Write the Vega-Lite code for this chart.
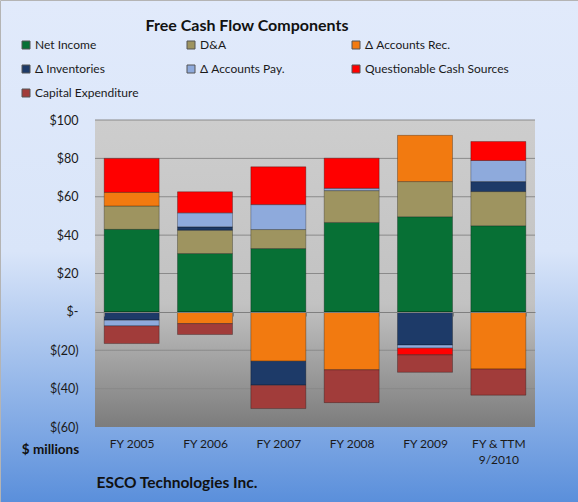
{
  "$schema": "https://vega.github.io/schema/vega-lite/v6.json",
  "width": 578,
  "height": 502,
  "padding": 0,
  "autosize": {"type": "none"},
  "config": {
    "font": "Lato",
    "view": {
      "fill": {"gradient": "linear", "x1": 0, "y1": 0, "x2": 0, "y2": 1,
        "stops": [{"offset": 0, "color": "#e1eafb"}, {"offset": 0.5, "color": "#d9e5f9"}, {"offset": 1, "color": "#5a8fdb"}]},
      "stroke": "#b4b4b4",
      "strokeWidth": 1
    },
    "axisY": {
      "orient": "left", "offset": -95,
      "labelFont": "Lato", "labelFontSize": 12.5, "labelColor": "#1a1a1a", "labelPadding": 17,
      "domain": false, "ticks": false, "grid": false,
      "titleAngle": 0, "titleX": -45, "titleY": 449,
      "titleAlign": "center", "titleBaseline": "middle", "titleFont": "Lato",
      "titleFontSize": 13.5, "titleFontWeight": "bold", "titleColor": "#111111",
      "zindex": 1
    }
  },
  "title": {
    "text": "Free Cash Flow Components",
    "font": "Lato",
    "fontSize": 16,
    "fontWeight": "bold",
    "color": "#111111",
    "anchor": "middle",
    "frame": "group",
    "baseline": "alphabetic",
    "dx": -42,
    "offset": -47
  },
  "data": {
    "values": [
      {"year": "FY 2005", "component": "Net Income", "k": 1, "value": 43.0},
      {"year": "FY 2005", "component": "D&A", "k": 2, "value": 12.2},
      {"year": "FY 2005", "component": "Δ Accounts Rec.", "k": 3, "value": 7.1},
      {"year": "FY 2005", "component": "Δ Inventories", "k": 4, "value": -4.3},
      {"year": "FY 2005", "component": "Δ Accounts Pay.", "k": 5, "value": -3.0},
      {"year": "FY 2005", "component": "Questionable Cash Sources", "k": 6, "value": 17.7},
      {"year": "FY 2005", "component": "Capital Expenditure", "k": 7, "value": -9.2},
      {"year": "FY 2006", "component": "Net Income", "k": 1, "value": 30.4},
      {"year": "FY 2006", "component": "D&A", "k": 2, "value": 12.2},
      {"year": "FY 2006", "component": "Δ Accounts Rec.", "k": 3, "value": -6.1},
      {"year": "FY 2006", "component": "Δ Inventories", "k": 4, "value": 1.7},
      {"year": "FY 2006", "component": "Δ Accounts Pay.", "k": 5, "value": 7.3},
      {"year": "FY 2006", "component": "Questionable Cash Sources", "k": 6, "value": 11.0},
      {"year": "FY 2006", "component": "Capital Expenditure", "k": 7, "value": -5.7},
      {"year": "FY 2007", "component": "Net Income", "k": 1, "value": 33.0},
      {"year": "FY 2007", "component": "D&A", "k": 2, "value": 9.9},
      {"year": "FY 2007", "component": "Δ Accounts Rec.", "k": 3, "value": -25.7},
      {"year": "FY 2007", "component": "Δ Inventories", "k": 4, "value": -12.5},
      {"year": "FY 2007", "component": "Δ Accounts Pay.", "k": 5, "value": 13.0},
      {"year": "FY 2007", "component": "Questionable Cash Sources", "k": 6, "value": 19.7},
      {"year": "FY 2007", "component": "Capital Expenditure", "k": 7, "value": -12.2},
      {"year": "FY 2008", "component": "Net Income", "k": 1, "value": 46.6},
      {"year": "FY 2008", "component": "D&A", "k": 2, "value": 16.6},
      {"year": "FY 2008", "component": "Δ Accounts Rec.", "k": 3, "value": -30.2},
      {"year": "FY 2008", "component": "Δ Accounts Pay.", "k": 5, "value": 1.2},
      {"year": "FY 2008", "component": "Questionable Cash Sources", "k": 6, "value": 15.7},
      {"year": "FY 2008", "component": "Capital Expenditure", "k": 7, "value": -17.1},
      {"year": "FY 2009", "component": "Net Income", "k": 1, "value": 49.6},
      {"year": "FY 2009", "component": "D&A", "k": 2, "value": 18.3},
      {"year": "FY 2009", "component": "Δ Accounts Rec.", "k": 3, "value": 24.1},
      {"year": "FY 2009", "component": "Δ Inventories", "k": 4, "value": -17.3},
      {"year": "FY 2009", "component": "Δ Accounts Pay.", "k": 5, "value": -1.6},
      {"year": "FY 2009", "component": "Questionable Cash Sources", "k": 6, "value": -3.5},
      {"year": "FY 2009", "component": "Capital Expenditure", "k": 7, "value": -9.1},
      {"year": "FY & TTM 9/2010", "component": "Net Income", "k": 1, "value": 44.9},
      {"year": "FY & TTM 9/2010", "component": "D&A", "k": 2, "value": 17.8},
      {"year": "FY & TTM 9/2010", "component": "Δ Accounts Rec.", "k": 3, "value": -29.8},
      {"year": "FY & TTM 9/2010", "component": "Δ Inventories", "k": 4, "value": 5.2},
      {"year": "FY & TTM 9/2010", "component": "Δ Accounts Pay.", "k": 5, "value": 11.0},
      {"year": "FY & TTM 9/2010", "component": "Questionable Cash Sources", "k": 6, "value": 9.9},
      {"year": "FY & TTM 9/2010", "component": "Capital Expenditure", "k": 7, "value": -13.6}
    ]
  },
  "resolve": {"scale": {"x": "independent"}, "axis": {"x": "independent"}},
  "layer": [
    {
      "data": {"values": [{"plot": "area"}]},
      "mark": {"type": "rect",
        "fill": {"gradient": "linear", "x1": 0, "y1": 0, "x2": 0, "y2": 1,
          "stops": [{"offset": 0, "color": "#cdcdcd"}, {"offset": 0.6, "color": "#c2c2c2"}, {"offset": 1, "color": "#7c7c7c"}]}},
      "encoding": {
        "x": {"datum": 0, "type": "quantitative", "scale": {"domain": [0, 1], "range": [95, 535]}, "axis": null},
        "x2": {"datum": 1},
        "y": {"datum": -60, "type": "quantitative", "scale": {"domain": [-60, 100], "range": [427, 120], "nice": false}, "title": "$ millions",
          "axis": {"values": [-60, -40, -20, 0, 20, 40, 60, 80, 100], "labelExpr": "datum.value == 0 ? '$-' : (datum.value < 0 ? '$(' + abs(datum.value) + ')' : '$' + datum.value)"}},
        "y2": {"datum": 100}
      }
    },
    {
      "data": {"values": [{"g": 100}, {"g": 80}, {"g": 60}, {"g": 40}, {"g": 20}, {"g": -20}, {"g": -40}]},
      "mark": {"type": "rule", "color": "#8a8a8a", "strokeWidth": 1},
      "encoding": {
        "x": {"datum": 0, "type": "quantitative", "scale": {"domain": [0, 1], "range": [95, 535]}, "axis": null},
        "x2": {"datum": 1},
        "y": {"field": "g", "type": "quantitative", "scale": {"domain": [-60, 100], "range": [427, 120], "nice": false}, "title": "$ millions",
          "axis": {"values": [-60, -40, -20, 0, 20, 40, 60, 80, 100], "labelExpr": "datum.value == 0 ? '$-' : (datum.value < 0 ? '$(' + abs(datum.value) + ')' : '$' + datum.value)"}}
      }
    },
    {
      "mark": {"type": "bar", "stroke": "#000000", "strokeOpacity": 0.28, "strokeWidth": 1},
      "encoding": {
        "x": {
          "field": "year", "type": "nominal", "sort": null,
          "scale": {"range": [95, 535], "paddingInner": 0.25, "paddingOuter": 0.125},
          "axis": {
            "orient": "bottom", "offset": -190, "zindex": 1,
            "title": "ESCO Technologies Inc.",
            "titleFont": "Lato", "titleFontSize": 15.5, "titleFontWeight": "bold", "titleColor": "#111111",
            "titleX": 96, "titleY": 170, "titleAlign": "left", "titleBaseline": "middle",
            "labelAngle": 0, "labelFont": "Lato", "labelFontSize": 12, "labelColor": "#1a1a1a",
            "labelPadding": 122, "labelLineHeight": 16, "labelBaseline": "top",
            "labelExpr": "datum.label == 'FY & TTM 9/2010' ? ['FY & TTM', '9/2010'] : datum.label",
            "domain": true, "domainColor": "#7f7f7f", "domainWidth": 1,
            "ticks": true, "tickBand": "extent", "tickSize": 4, "tickColor": "#7f7f7f",
            "grid": false
          }
        },
        "y": {
          "field": "value", "type": "quantitative", "stack": "zero",
          "scale": {"domain": [-60, 100], "range": [427, 120], "nice": false},
          "title": "$ millions",
          "axis": {"values": [-60, -40, -20, 0, 20, 40, 60, 80, 100], "labelExpr": "datum.value == 0 ? '$-' : (datum.value < 0 ? '$(' + abs(datum.value) + ')' : '$' + datum.value)"}
        },
        "order": {"field": "k", "type": "quantitative", "sort": "ascending"},
        "color": {
          "field": "component", "type": "nominal",
          "scale": {
            "domain": ["Net Income", "D&A", "Δ Accounts Rec.", "Δ Inventories", "Δ Accounts Pay.", "Questionable Cash Sources", "Capital Expenditure"],
            "range": ["#077035", "#9e9460", "#f27a10", "#1d3a68", "#8eaadc", "#ff0000", "#a13c3a"]
          },
          "legend": {
            "orient": "none", "legendX": 20, "legendY": 39, "columns": 3, "direction": "horizontal", "gridAlign": "all",
            "title": null, "symbolType": "square", "symbolSize": 64, "symbolStrokeWidth": 1,
            "symbolStrokeColor": "#555555",
            "labelFont": "Lato", "labelFontSize": 12, "labelColor": "#1a1a1a", "labelOffset": 3,
            "columnPadding": 6, "rowPadding": 12, "labelLimit": 200
          }
        }
      }
    }
  ]
}
